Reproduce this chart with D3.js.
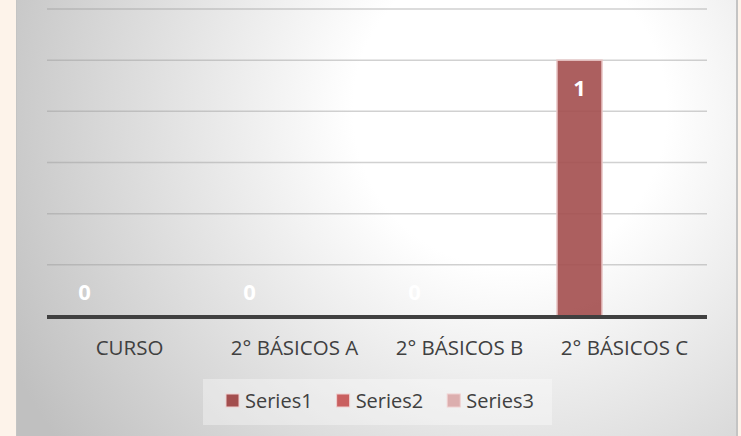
<!DOCTYPE html>
<html>
<head>
<meta charset="utf-8">
<script src="https://cdn.jsdelivr.net/npm/d3@7"></script>
<style>
  body { margin: 0; background: #fdf3ea; }
  svg { display: block; font-family: "Open Sans", sans-serif; }
</style>
</head>
<body>
<script>
var categories = ["CURSO", "2° BÁSICOS A", "2° BÁSICOS B", "2° BÁSICOS C"];
var seriesNames = ["Series1", "Series2", "Series3"];
var series1 = [0, 0, 0, 1];
var series2 = [0, 0, 0, 0];
var series3 = [0, 0, 0, 0];
var yTicks = [0, 0.2, 0.4, 0.6, 0.8, 1, 1.2];

var values = [series1, series2, series3];
var colors = ["#a34e4e", "#c95f5f", "#dcaeae"];

var W = 741, H = 436;
var svg = d3.select("body").append("svg")
    .attr("width", W)
    .attr("height", H);

var defs = svg.append("defs");
var grad = defs.append("radialGradient")
    .attr("id", "bg")
    .attr("gradientUnits", "userSpaceOnUse")
    .attr("cx", 510).attr("cy", 110).attr("r", 560);
grad.append("stop").attr("offset", 0).attr("stop-color", "#ffffff");
grad.append("stop").attr("offset", 0.28).attr("stop-color", "#ffffff");
grad.append("stop").attr("offset", 1).attr("stop-color", "#c0c0c0");

// frame
svg.append("rect").attr("x", 16).attr("y", 0).attr("width", 722).attr("height", H)
    .attr("fill", "#c4c4c4");
svg.append("rect").attr("x", 17).attr("y", 0).attr("width", 719).attr("height", H)
    .attr("fill", "url(#bg)");

var x0 = d3.scaleBand().domain(categories).range([47, 707]).paddingInner(0).paddingOuter(0);
var x1 = d3.scaleBand().domain(seriesNames).range([0, x0.bandwidth()])
    .paddingInner(0).paddingOuter(1 / 3);
var y = d3.scaleLinear().domain([0, 1.2]).range([316, 9]);

// gridlines
svg.append("g").selectAll("line")
    .data(yTicks.slice(1))
    .enter().append("line")
    .attr("x1", 47).attr("x2", 707)
    .attr("y1", function(d) { return y(d); })
    .attr("y2", function(d) { return y(d); })
    .attr("stroke", "#9a9a9a")
    .attr("stroke-opacity", 0.45)
    .attr("stroke-width", 1.5);

// bars
var groups = svg.append("g").selectAll("g")
    .data(seriesNames)
    .enter().append("g")
    .attr("fill", function(d, i) { return colors[i]; });

groups.selectAll("rect")
    .data(function(s, si) {
        return categories.map(function(c, ci) { return {cat: c, s: s, v: values[si][ci]}; });
    })
    .enter().append("rect")
    .filter(function(d) { return d.v > 0; })
    .attr("x", function(d) { return x0(d.cat) + x1(d.s); })
    .attr("y", function(d) { return y(d.v); })
    .attr("width", x1.bandwidth())
    .attr("height", function(d) { return y(0) - y(d.v); })
    .attr("fill-opacity", 0.9)
    .attr("stroke", "#e8c4c4")
    .attr("stroke-width", 1.5);

// axis
var xAxis = d3.axisBottom(x0).tickSize(0).tickPadding(0);
var ax = svg.append("g")
    .attr("transform", "translate(0," + y(0) + ")")
    .call(xAxis);
ax.select(".domain").remove();
ax.selectAll("text")
    .attr("y", 0)
    .attr("dy", 39)
    .attr("font-size", 20.5)
    .attr("font-family", "Open Sans, sans-serif")
    .attr("fill", "#404040");
svg.append("line")
    .attr("x1", 47).attr("x2", 707)
    .attr("y1", y(0) + 1).attr("y2", y(0) + 1)
    .attr("stroke", "#404040")
    .attr("stroke-width", 4);

// data labels (Series1)
svg.append("g").selectAll("text")
    .data(series1)
    .enter().append("text")
    .attr("x", function(d, i) { return x0(categories[i]) + x1("Series1") + x1.bandwidth() / 2; })
    .attr("y", function(d) { return d > 0 ? y(d) + 36 : y(d) - 16; })
    .attr("text-anchor", "middle")
    .attr("font-size", 22)
    .attr("font-weight", "bold")
    .attr("fill", "#ffffff")
    .text(function(d) { return d; });

// legend
var legend = svg.append("g");
legend.append("rect")
    .attr("x", 203).attr("y", 379).attr("width", 349).attr("height", 46)
    .attr("fill", "#ffffff").attr("fill-opacity", 0.35);
var lx = 226;
seriesNames.forEach(function(s, i) {
    legend.append("rect")
        .attr("x", lx).attr("y", 394).attr("width", 13).attr("height", 13)
        .attr("fill", colors[i])
        .attr("stroke", "#f0d0d0").attr("stroke-width", 1);
    var t = legend.append("text")
        .attr("x", lx + 19).attr("y", 408)
        .attr("font-size", 20)
        .attr("fill", "#404040")
        .text(s);
    lx += 19 + t.node().getComputedTextLength() + 24;
});
</script>
</body>
</html>
